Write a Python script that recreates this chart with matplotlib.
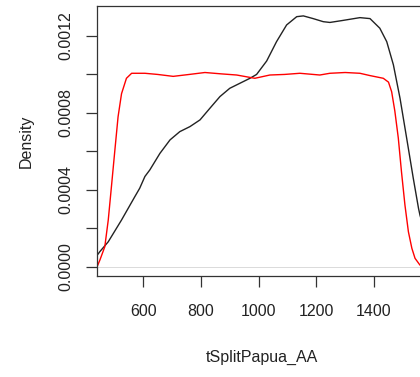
import matplotlib
matplotlib.use("Agg")
import matplotlib.pyplot as plt
import numpy as np

plt.rcParams['font.family'] = ['Liberation Sans', 'DejaVu Sans']

# black density curve
black_x = [440, 450, 479, 525, 571, 588, 606, 623, 658, 693, 727, 762, 797, 831, 866,
           900, 935, 970, 993, 1028, 1062, 1097, 1132, 1155, 1189, 1224, 1247, 1290,
           1351, 1386, 1420, 1444, 1467, 1490, 1513, 1536, 1554, 1559, 1580]
black_y = [0.00006, 0.00008, 0.000131, 0.000244, 0.000365, 0.000409, 0.00047, 0.000504,
           0.00059, 0.00066, 0.000703, 0.000729, 0.000764, 0.000824, 0.000885, 0.000928,
           0.000954, 0.00098, 0.001, 0.00107, 0.00117, 0.001257, 0.0013, 0.001304,
           0.00129, 0.001274, 0.00127, 0.00128, 0.001295, 0.00129, 0.00124, 0.00117,
           0.00105, 0.000876, 0.000669, 0.00046, 0.000305, 0.00027, 0.00016]

# red density curve
red_x = [440, 450, 467, 479, 490, 502, 513, 525, 542, 560, 606, 650, 704, 760, 814,
         870, 924, 987, 1039, 1090, 1143, 1212, 1247, 1300, 1351, 1386, 1432, 1450,
         1461, 1472, 1484, 1495, 1507, 1519, 1531, 1542, 1559, 1580]
red_y = [0.0, 0.000036, 0.000105, 0.000244, 0.000417, 0.000608, 0.00078, 0.0009,
         0.00098, 0.001006, 0.001006, 0.001, 0.00099, 0.001, 0.00101, 0.001003, 0.000997,
         0.00098, 0.000997, 0.001, 0.001006, 0.000997, 0.001006, 0.00101, 0.001006,
         0.000994, 0.00098, 0.00096, 0.00091, 0.00081, 0.00067, 0.000495, 0.000322,
         0.000183, 0.000097, 0.000045, 0.00001, 0.0]

y_ticks = [0, 0.0002, 0.0004, 0.0006, 0.0008, 0.001, 0.0012]
y_labels = ['0.0000', '', '0.0004', '', '0.0008', '', '0.0012']
x_ticks = [600, 800, 1000, 1200, 1400]

fig = plt.figure(figsize=(4.2, 3.77), dpi=100)
ax = fig.add_axes([97/420, 0.2666, (426 - 97)/420, 0.7188])

ax.axhline(0, color='#cccccc', lw=0.5)
ax.plot(black_x, black_y, color='#222222', lw=1.0)
ax.plot(red_x, red_y, color='red', lw=1.0)

ax.set_xlim(440, 1580)
ax.set_ylim(-4.94e-5, 0.001358)

ax.set_xticks(x_ticks)
ax.set_yticks(y_ticks)
ax.set_yticklabels(y_labels, rotation=90, va='center')
ax.tick_params(axis='both', direction='out', length=8, width=0.9, color='#333333',
               labelsize=11.5, labelcolor='#222222')
ax.tick_params(axis='x', pad=12)
ax.tick_params(axis='y', pad=9)
for s in ax.spines.values():
    s.set_linewidth(0.9)
    s.set_color('#333333')

ax.set_xlabel('tSplitPapua_AA', fontsize=11.5, labelpad=22, color='#222222')
ax.set_ylabel('Density', fontsize=11.5, labelpad=18, color='#222222')

fig.savefig('out.png', dpi=100)
